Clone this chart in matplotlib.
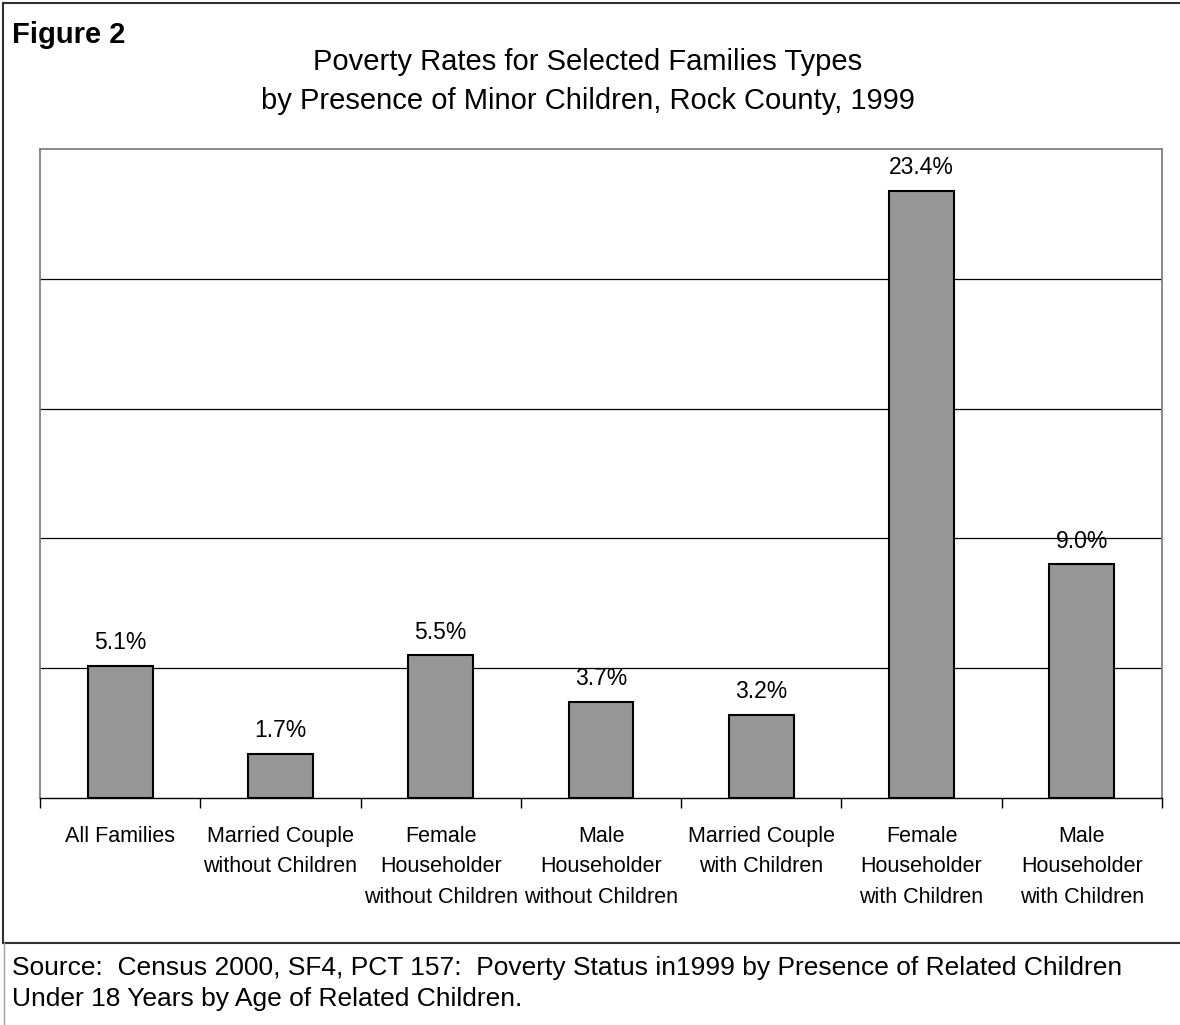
import matplotlib.pyplot as plt
from matplotlib.lines import Line2D

categories = ["All Families", "Married Couple\nwithout Children", "Female\nHouseholder\nwithout Children",
              "Male\nHouseholder\nwithout Children", "Married Couple\nwith Children",
              "Female\nHouseholder\nwith Children", "Male\nHouseholder\nwith Children"]
rates = [5.1, 1.7, 5.5, 3.7, 3.2, 23.4, 9.0]
grid_vals = [5, 10, 15, 20]

title_lines = ["Poverty Rates for Selected Families Types",
               "by Presence of Minor Children, Rock County, 1999"]
source_lines = ["Source:  Census 2000, SF4, PCT 157:  Poverty Status in1999 by Presence of Related Children",
                "Under 18 Years by Age of Related Children."]

plt.rcParams['font.family'] = ['Liberation Sans', 'DejaVu Sans']

W, H = 1180, 1025
fig = plt.figure(figsize=(W / 100, H / 100), dpi=100)
ax = fig.add_axes([40/W, 1 - 798/H, 1122/W, 649/H])

x = range(len(categories))
ax.bar(x, rates, width=0.405, color="#969696", edgecolor="black", linewidth=1.5, zorder=3)
for xi, v in zip(x, rates):
    ax.annotate(f"{v:.1f}%", (xi, v), xytext=(0, 12), textcoords="offset points",
                ha="center", va="baseline", fontsize=16.5)

for g in grid_vals:
    ax.axhline(g, color="black", linewidth=0.9, zorder=1)

ax.set_xlim(-0.5, len(categories) - 0.5)
ax.set_ylim(0, 25)
ax.set_yticks([])
ax.set_xticks(list(x))
ax.set_xticklabels(categories, fontsize=15.5, linespacing=1.6)
ax.tick_params(axis="x", which="major", length=0, pad=20)
ax.set_xticks([i - 0.5 for i in range(len(categories) + 1)], minor=True)
ax.tick_params(axis="x", which="minor", length=7, width=1, color="black", direction="out")
for s in ["top", "left", "right"]:
    ax.spines[s].set_color("#808080")
    ax.spines[s].set_linewidth(1.3)
ax.spines["bottom"].set_color("black")
ax.spines["bottom"].set_linewidth(1)

fig.text(12/W, 1 - 43/H, "Figure 2", fontsize=21, fontweight="bold", va="baseline")
for i, line in enumerate(title_lines):
    fig.text(588/W, 1 - (70 + 39 * i)/H, line, ha="center", va="baseline", fontsize=21)

for i, line in enumerate(source_lines):
    fig.text(12/W, 1 - (975 + 31 * i)/H, line, fontsize=19, va="baseline")

# frame around the chart and the source box
yb = 1 - 943/H
tf = fig.transFigure
fig.add_artist(Line2D([3/W, 3/W], [yb, 1 - 3/H], color="#303030", linewidth=1.5, transform=tf))
fig.add_artist(Line2D([3/W, 1], [1 - 3/H, 1 - 3/H], color="#303030", linewidth=1.5, transform=tf))
fig.add_artist(Line2D([3/W, 1], [yb, yb], color="#303030", linewidth=1.5, transform=tf))
fig.add_artist(Line2D([4/W, 4/W], [0, yb], color="#a0a0a0", linewidth=1, transform=tf))

fig.savefig("out.png", dpi=100)
